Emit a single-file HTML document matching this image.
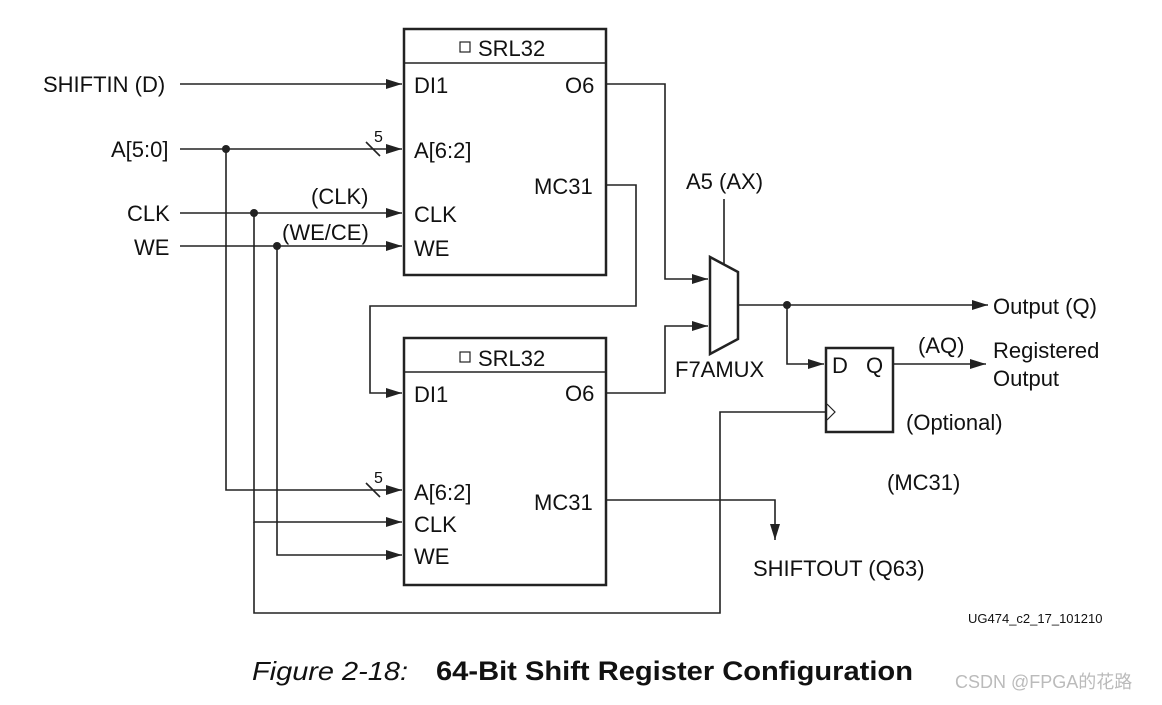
<!DOCTYPE html>
<html><head><style>
body{margin:0;background:#fff}
svg text{font-family:"Liberation Sans",sans-serif;fill:#111}
</style></head><body>
<svg width="1162" height="700" xmlns="http://www.w3.org/2000/svg">
<defs><marker id="a" markerWidth="16" markerHeight="10" refX="16" refY="5" orient="auto" markerUnits="userSpaceOnUse"><path d="M0,0 L16,5 L0,10 z" fill="#222"/></marker></defs>
<g stroke="#222" stroke-width="1.6" fill="none">
<rect x="404" y="29" width="202" height="246" stroke-width="2.5"/>
<line x1="404" y1="63" x2="606" y2="63"/>
<rect x="404" y="338" width="202" height="247" stroke-width="2.5"/>
<line x1="404" y1="372" x2="606" y2="372"/>
<rect x="460" y="42" width="10" height="10" stroke-width="1.2"/>
<rect x="460" y="352" width="10" height="10" stroke-width="1.2"/>
<line x1="180" y1="84" x2="402" y2="84" marker-end="url(#a)"/>
<line x1="180" y1="149" x2="402" y2="149" marker-end="url(#a)"/>
<line x1="366" y1="142" x2="380" y2="156"/>
<line x1="180" y1="213" x2="402" y2="213" marker-end="url(#a)"/>
<line x1="180" y1="246" x2="402" y2="246" marker-end="url(#a)"/>
<polyline points="226,149 226,490 402,490" marker-end="url(#a)"/>
<line x1="366" y1="483" x2="380" y2="497"/>
<polyline points="254,213 254,522 402,522" marker-end="url(#a)"/>
<polyline points="277,246 277,555 402,555" marker-end="url(#a)"/>
<polyline points="254,522 254,613 720,613 720,412 826,412"/>
<polyline points="606,84 665,84 665,279 708,279" marker-end="url(#a)"/>
<polyline points="606,185 636,185 636,306 370,306 370,393 402,393" marker-end="url(#a)"/>
<polyline points="606,393 665,393 665,326 708,326" marker-end="url(#a)"/>
<polyline points="606,500 775,500 775,540" marker-end="url(#a)"/>
<polygon points="710,257 738,272 738,339 710,354" stroke-width="2.5"/>
<line x1="724" y1="199" x2="724" y2="264"/>
<line x1="738" y1="305" x2="988" y2="305" marker-end="url(#a)"/>
<polyline points="787,305 787,364 824,364" marker-end="url(#a)"/>
<rect x="826" y="348" width="67" height="84" stroke-width="2.5"/>
<polyline points="827,404 835,412 827,420" stroke-width="1.2"/>
<line x1="893" y1="364" x2="986" y2="364" marker-end="url(#a)"/>
</g>
<g fill="#222"><circle cx="226" cy="149" r="4"/><circle cx="254" cy="213" r="4"/><circle cx="277" cy="246" r="4"/><circle cx="787" cy="305" r="4"/></g>
<g font-size="22">
<text x="478" y="56">SRL32</text><text x="478" y="366">SRL32</text>
<text x="414" y="93">DI1</text><text x="565" y="93">O6</text>
<text x="414" y="158">A[6:2]</text><text x="534" y="194">MC31</text>
<text x="414" y="222">CLK</text><text x="414" y="256">WE</text>
<text x="414" y="402">DI1</text><text x="565" y="401">O6</text>
<text x="414" y="500">A[6:2]</text><text x="534" y="510">MC31</text>
<text x="414" y="532">CLK</text><text x="414" y="564">WE</text>
<text x="43" y="92">SHIFTIN (D)</text>
<text x="111" y="157">A[5:0]</text>
<text x="127" y="221">CLK</text>
<text x="134" y="255">WE</text>
<text x="311" y="204">(CLK)</text>
<text x="282" y="240">(WE/CE)</text>
<text x="686" y="189">A5 (AX)</text>
<text x="675" y="377">F7AMUX</text>
<text x="993" y="314">Output (Q)</text>
<text x="993" y="358">Registered</text>
<text x="993" y="386">Output</text>
<text x="918" y="353">(AQ)</text>
<text x="832" y="373">D</text><text x="866" y="373">Q</text>
<text x="906" y="430">(Optional)</text>
<text x="887" y="490">(MC31)</text>
<text x="753" y="576">SHIFTOUT (Q63)</text>
</g>
<text x="374" y="142" font-size="16">5</text>
<text x="374" y="483" font-size="16">5</text>
<text x="968" y="623" font-size="13">UG474_c2_17_101210</text>
<text x="252" y="680" font-size="26" font-style="italic" textLength="156" lengthAdjust="spacingAndGlyphs">Figure 2-18:</text>
<text x="436" y="680" font-size="27" font-weight="bold" textLength="477" lengthAdjust="spacingAndGlyphs">64-Bit Shift Register Configuration</text>
<text x="955" y="688" font-size="18" style="fill:#bbb;font-family:'Liberation Sans','Noto Sans CJK SC',sans-serif">CSDN @FPGA的花路</text>
</svg>
</body></html>
